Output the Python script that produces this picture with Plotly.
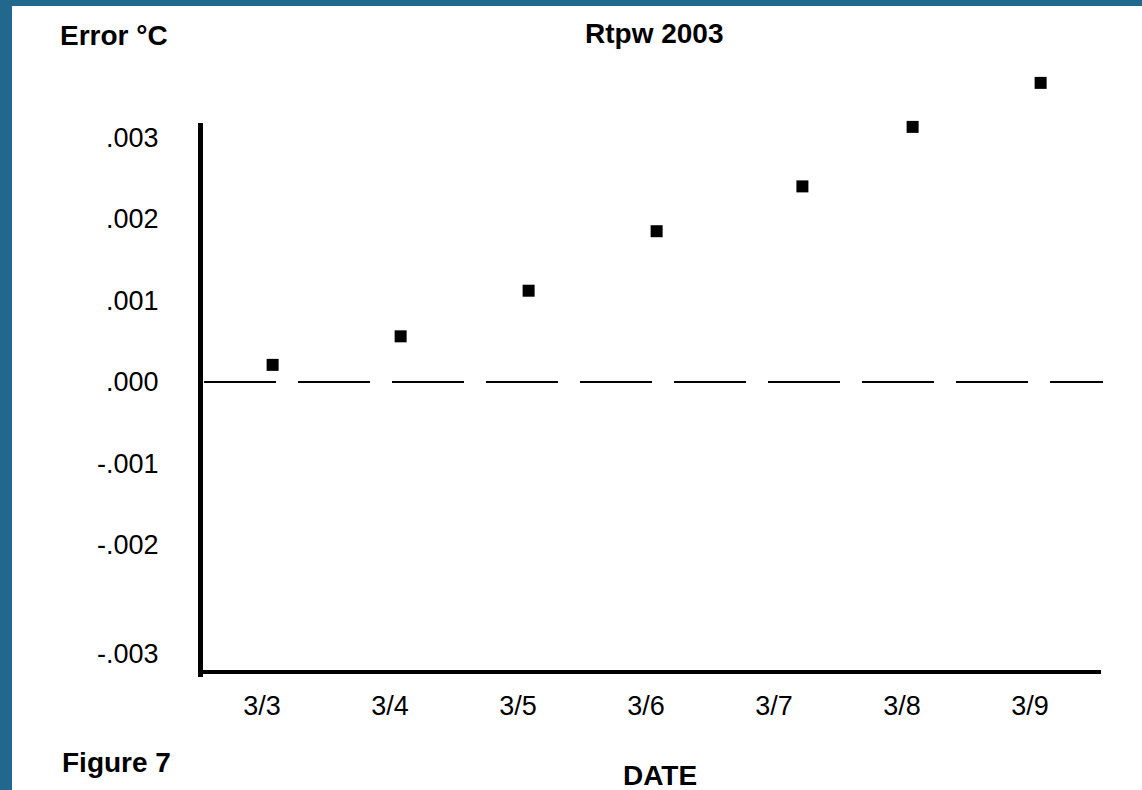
import plotly.graph_objects as go
import pandas as pd

# ---- data ----
measure_times = ["2003-03-03 02:00", "2003-03-04 02:00", "2003-03-05 02:00",
                 "2003-03-06 02:00", "2003-03-07 05:20", "2003-03-08 02:00",
                 "2003-03-09 02:00"]
error_c = [0.00021, 0.00056, 0.00112, 0.00185, 0.00240, 0.00313, 0.00367]

date_ticks = ["2003-03-03", "2003-03-04", "2003-03-05", "2003-03-06",
              "2003-03-07", "2003-03-08", "2003-03-09"]
date_labels = ["3/3", "3/4", "3/5", "3/6", "3/7", "3/8", "3/9"]

y_tick_vals = [0.003, 0.002, 0.001, 0.0, -0.001, -0.002, -0.00333]
y_tick_text = [".003", ".002", ".001", ".000", "-.001", "-.002", "-.003"]

W, H = 1142, 790
FONT = "Liberation Sans, Arial, sans-serif"

base = pd.Timestamp("2003-03-03")
x_range = [base - pd.Timedelta(days=0.484), base + pd.Timedelta(days=6.555)]

fig = go.Figure()
fig.add_trace(go.Scatter(
    x=pd.to_datetime(measure_times), y=error_c, mode="markers",
    marker=dict(symbol="square", size=12, color="black"),
    cliponaxis=False, showlegend=False, hoverinfo="x+y"))

fig.update_layout(
    width=W, height=H,
    margin=dict(l=0, r=0, t=0, b=0),
    paper_bgcolor="#22688c",
    plot_bgcolor="rgba(0,0,0,0)",
    font=dict(family=FONT, color="black", size=27),
    xaxis=dict(domain=[200 / W, 1101 / W], range=x_range,
               tickvals=pd.to_datetime(date_ticks), ticktext=date_labels,
               showgrid=False, zeroline=False, showline=True, linewidth=4,
               linecolor="black", ticks="outside", ticklen=9,
               tickcolor="rgba(0,0,0,0)", tickfont=dict(size=27)),
    yaxis=dict(domain=[(H - 670) / H, 1],
               range=[-0.003534, 0.004687],
               tickvals=y_tick_vals, ticktext=y_tick_text,
               showgrid=False, zeroline=False, showline=False,
               ticks="outside", ticklen=35,
               tickcolor="rgba(0,0,0,0)", tickfont=dict(size=27)),
    shapes=[
        dict(type="rect", xref="paper", yref="paper", x0=12 / W, x1=1,
             y0=0, y1=(H - 6) / H, fillcolor="white", line=dict(width=0),
             layer="below"),
        dict(type="line", xref="x domain", yref="y", x0=4 / 901, x1=1 + 2 / 901,
             y0=0, y1=0, line=dict(color="black", width=2, dash="72px,22px")),
        dict(type="line", xref="paper", yref="paper", x0=200.5 / W, x1=200.5 / W,
             y0=(H - 677) / H, y1=(H - 123) / H,
             line=dict(color="black", width=5)),
    ],
    annotations=[
        dict(text="<b>Error °C</b>", xref="paper", yref="paper",
             x=114 / W, y=(H - 35) / H, showarrow=False,
             font=dict(size=28), xanchor="center", yanchor="middle"),
        dict(text="<b>Rtpw 2003</b>", xref="paper", yref="paper",
             x=654 / W, y=(H - 33) / H, showarrow=False,
             font=dict(size=28), xanchor="center", yanchor="middle"),
        dict(text="<b>Figure 7</b>", xref="paper", yref="paper",
             x=60 / W, y=(H - 762) / H, showarrow=False,
             font=dict(size=28), xanchor="left", yanchor="middle"),
        dict(text="<b>DATE</b>", xref="paper", yref="paper",
             x=660 / W, y=(H - 775) / H, showarrow=False,
             font=dict(size=28), xanchor="center", yanchor="middle"),
    ],
)

fig.write_html("out.html")
